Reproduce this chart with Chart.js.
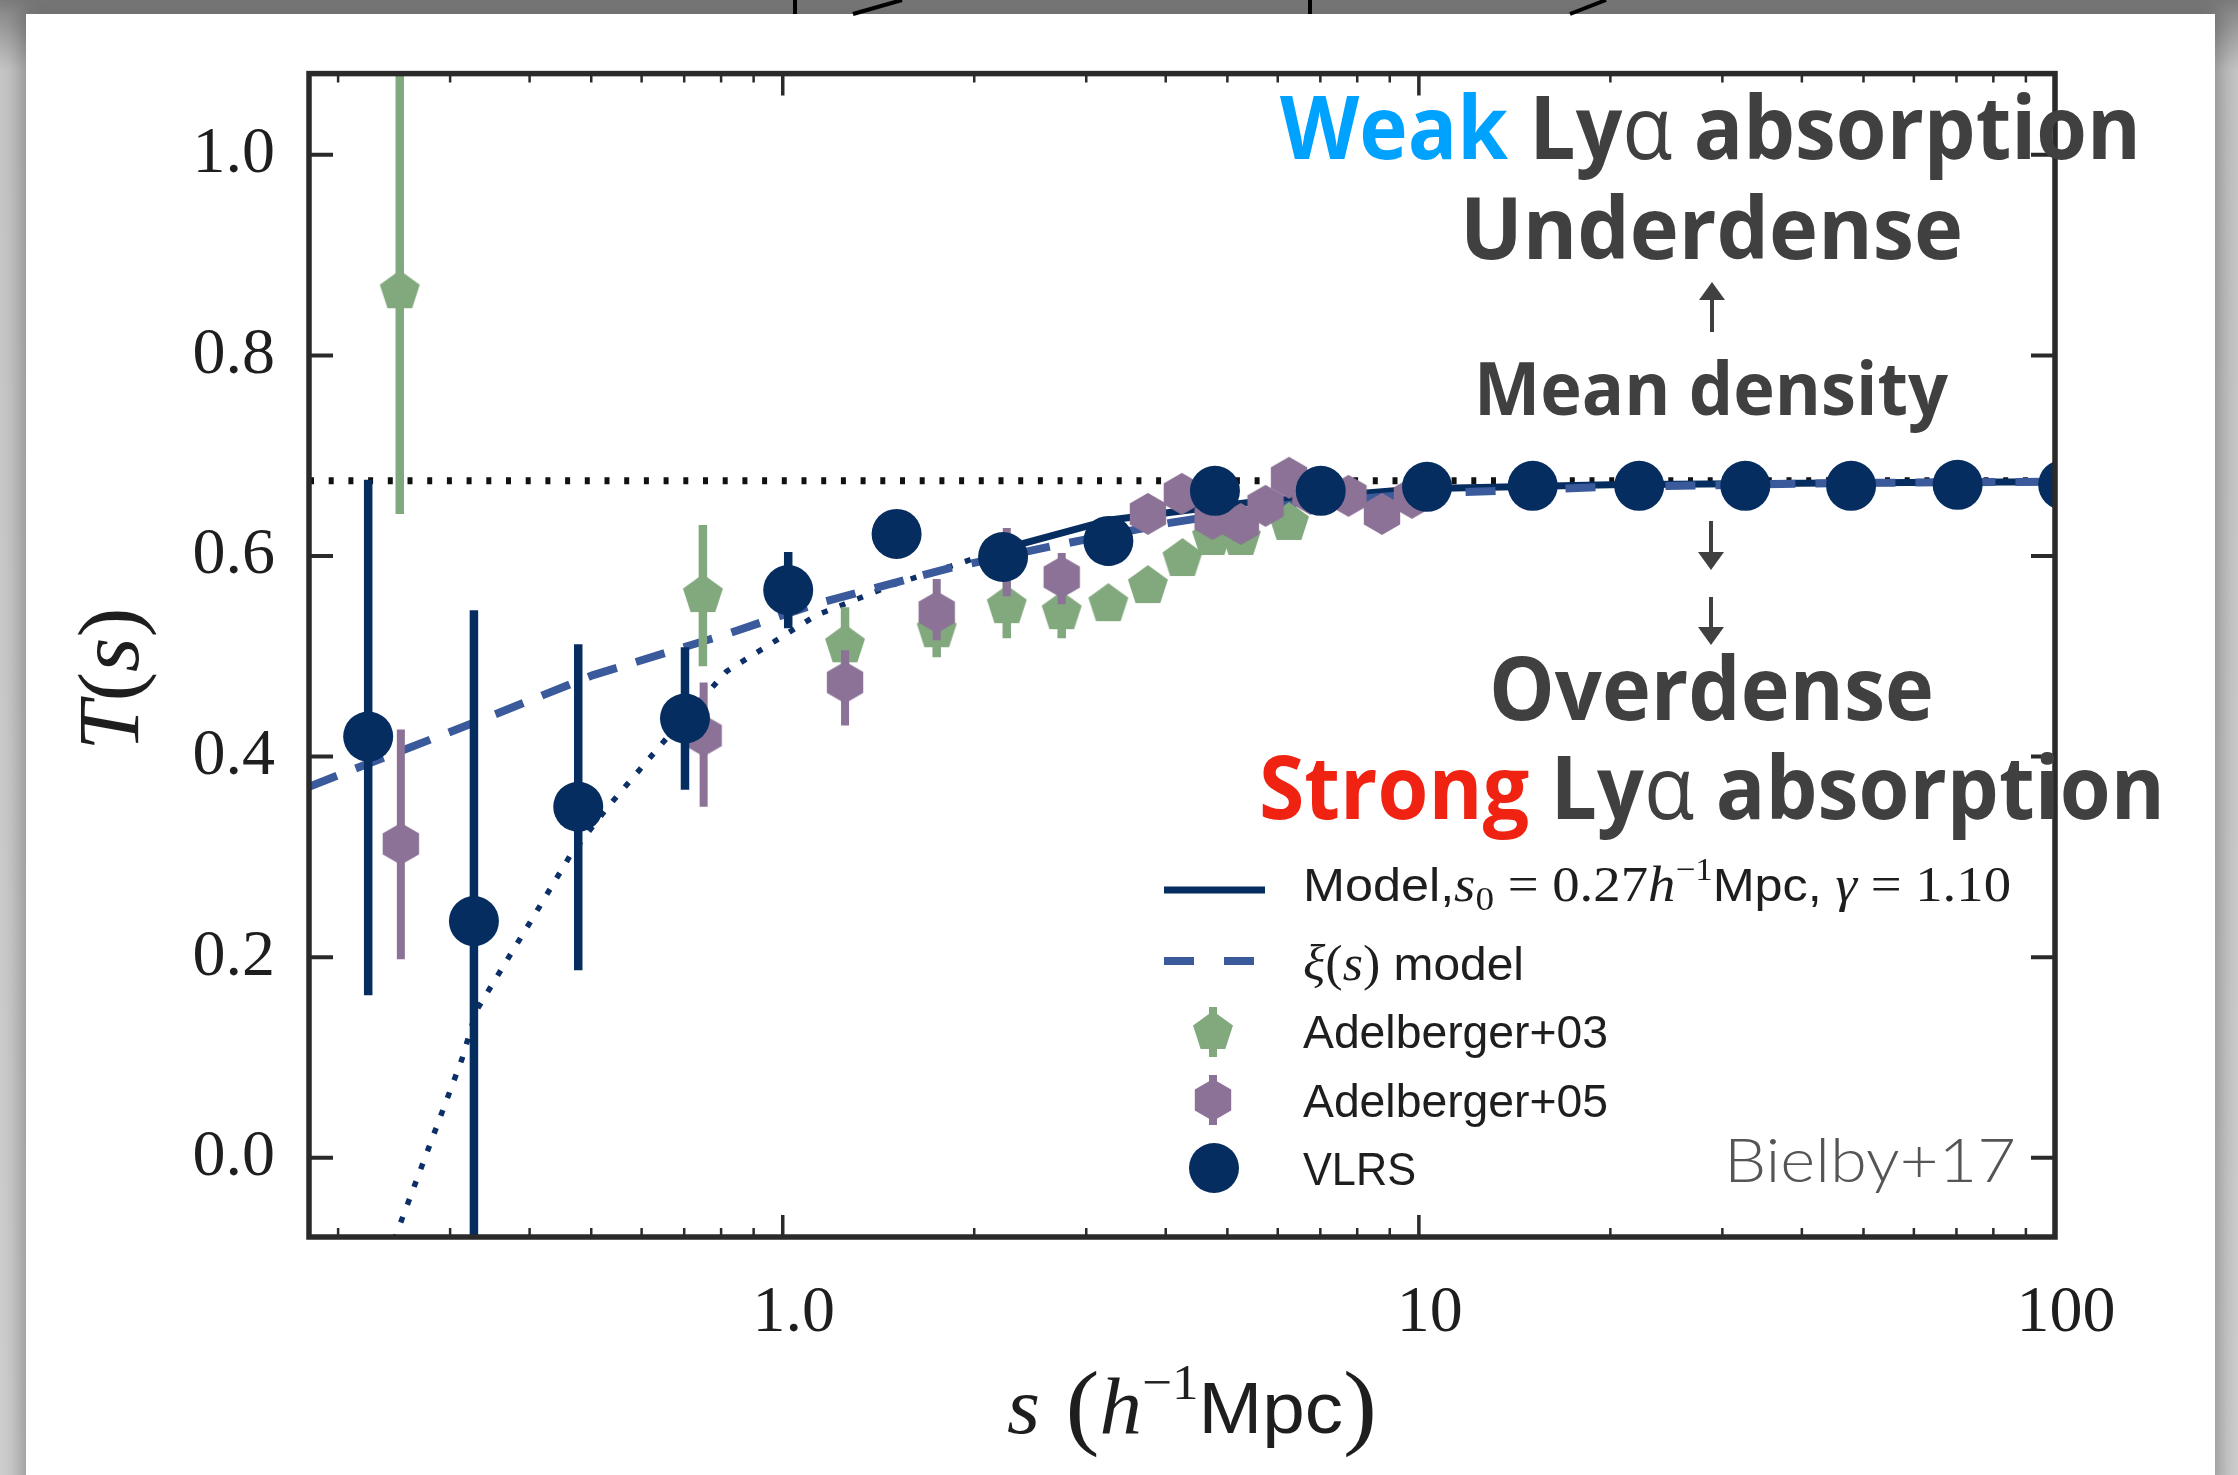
<!DOCTYPE html>
<html>
<head>
<meta charset="utf-8">
<script src="https://cdn.jsdelivr.net/npm/chart.js@4.4.1/dist/chart.umd.min.js"></script>
<style>
  html, body { margin: 0; padding: 0; }
  body { width: 2238px; height: 1475px; overflow: hidden; position: relative;
         background: linear-gradient(#7c7c7c 0, #8e8e8e 14px, #c6c6c6 70px, #cfcfcf 100%); }
  #card { position: absolute; left: 26px; top: 14px; width: 2189px; height: 1480px; background: #fff;
          box-shadow: 0 0 20px 5px rgba(0,0,0,0.30); }
  #deco { position: absolute; left: 0; top: 0; }
  #wrap { position: absolute; left: 0; top: 0; width: 2238px; height: 1475px; }
</style>
</head>
<body>
<div id="card"></div>
<svg id="deco" width="2238" height="16">
  <line x1="795" y1="0" x2="795" y2="14" stroke="#000" stroke-width="4"/>
  <line x1="853" y1="14" x2="902" y2="0" stroke="#000" stroke-width="4"/>
  <line x1="1310" y1="0" x2="1310" y2="14" stroke="#000" stroke-width="4"/>
  <line x1="1570" y1="14" x2="1606" y2="0" stroke="#000" stroke-width="4"/>
</svg>
<div id="wrap"><canvas id="grafico"></canvas></div>
<script>
// ========== DATOS ==========
const xTicks = [1, 10, 100];
const yTicks = [0.0, 0.2, 0.4, 0.6, 0.8, 1.0];

// VLRS
const vlrsS  = [0.223, 0.327, 0.477, 0.702, 1.02, 1.51, 2.22, 3.25, 4.78, 7.01, 10.3, 15.1, 22.2, 32.6, 47.8, 70.3, 103];
const vlrsT  = [0.420, 0.236, 0.350, 0.438, 0.566, 0.622, 0.599, 0.615, 0.665, 0.665, 0.669, 0.670, 0.670, 0.670, 0.670, 0.671, 0.671];
const vlrsLo = [0.162, -0.30, 0.187, 0.367, 0.528, 0.622, 0.599, 0.615, 0.665, 0.665, 0.669, 0.670, 0.670, 0.670, 0.670, 0.671, 0.671];
const vlrsHi = [0.676, 0.546, 0.512, 0.509, 0.604, 0.622, 0.599, 0.615, 0.665, 0.665, 0.669, 0.670, 0.670, 0.670, 0.670, 0.671, 0.671];

// Adelberger+03
const a03S  = [0.25, 0.749, 1.253, 1.746, 2.25, 2.745, 3.25, 3.75, 4.25, 4.73, 5.25, 6.25];
const a03T  = [0.864, 0.561, 0.511, 0.526, 0.550, 0.544, 0.552, 0.570, 0.597, 0.618, 0.618, 0.633];
const a03Lo = [0.642, 0.490, 0.485, 0.499, 0.518, 0.518, 0.540, 0.560, 0.585, 0.605, 0.605, 0.620];
const a03Hi = [1.300, 0.631, 0.549, 0.555, 0.580, 0.570, 0.565, 0.580, 0.610, 0.630, 0.630, 0.645];

// Adelberger+05
const a05S  = [0.251, 0.751, 1.253, 1.746, 2.25, 2.745, 3.25, 3.75, 4.24, 4.74, 5.25, 5.74, 6.25, 6.75, 7.75, 8.75, 9.75];
const a05T  = [0.313, 0.421, 0.474, 0.544, 0.600, 0.579, 0.615, 0.642, 0.662, 0.637, 0.632, 0.650, 0.678, 0.662, 0.660, 0.642, 0.658];
const a05Lo = [0.198, 0.350, 0.431, 0.516, 0.560, 0.552, 0.590, 0.625, 0.648, 0.620, 0.615, 0.635, 0.665, 0.650, 0.645, 0.625, 0.645];
const a05Hi = [0.427, 0.474, 0.506, 0.577, 0.628, 0.603, 0.635, 0.660, 0.678, 0.655, 0.650, 0.665, 0.692, 0.675, 0.675, 0.660, 0.670];

// modelos
const modelS = [2.22, 3.27, 5.36, 10, 20, 50, 100];
const modelT = [0.607, 0.636, 0.653, 0.667, 0.671, 0.673, 0.674];
const dotS = [0.239, 0.313, 0.33, 0.4, 0.464, 0.528, 0.65, 0.816, 1.0, 1.13, 1.5, 1.84, 2.22];
const dotT = [-0.10, 0.098, 0.147, 0.234, 0.302, 0.348, 0.415, 0.485, 0.52, 0.541, 0.572, 0.59, 0.607];
const xiS = [0.18, 0.34, 0.502, 0.815, 1.126, 1.83, 2.66, 4.06, 6.0, 10, 20, 50, 100];
const xiT = [0.370, 0.438, 0.481, 0.522, 0.552, 0.588, 0.610, 0.633, 0.650, 0.662, 0.669, 0.673, 0.674];
const meanS = [0.18, 100];
const meanT = [0.675, 0.675];

// ========== ESTILOS ==========
const NAVY = '#062d5f';
const GREEN = '#82a87e';
const PURPLE = '#8b7296';
const XIBLUE = '#3a5a9b';
const SERIF = "'Liberation Serif', 'DejaVu Serif', serif";
const SANS = "'Liberation Sans', 'DejaVu Sans', sans-serif";
const BOLD = "'Open Sans', 'DejaVu Sans', sans-serif";

function polygonImage(sides, r, color) {
  const c = document.createElement('canvas');
  const s = Math.ceil(2 * r + 2);
  c.width = s; c.height = s;
  const g = c.getContext('2d');
  g.fillStyle = color;
  g.beginPath();
  for (let i = 0; i < sides; i++) {
    const a = -Math.PI / 2 + i * 2 * Math.PI / sides;
    g.lineTo(s / 2 + r * Math.cos(a), s / 2 + r * Math.sin(a));
  }
  g.closePath();
  g.fill();
  return c;
}
const pentagon = polygonImage(5, 21, GREEN);
const hexagon = polygonImage(6, 21, PURPLE);

const pts = (xs, ys) => xs.map((v, i) => ({ x: v, y: ys[i] }));

// ========== PLUGINS ==========
const errorBars = {
  id: 'errorBars',
  beforeDatasetDraw(chart, args) {
    const ds = chart.data.datasets[args.index];
    if (!ds.errLo) return;
    const { ctx, chartArea: a, scales: { x, y } } = chart;
    ctx.save();
    ctx.beginPath();
    ctx.rect(a.left, a.top, a.right - a.left, a.bottom - a.top);
    ctx.clip();
    ctx.strokeStyle = ds.backgroundColor;
    ctx.lineWidth = ds.errWidth;
    ds.data.forEach((p, i) => {
      if (ds.errHi[i] - ds.errLo[i] <= 0) return;
      const px = x.getPixelForValue(p.x);
      ctx.beginPath();
      ctx.moveTo(px, y.getPixelForValue(ds.errLo[i]));
      ctx.lineTo(px, y.getPixelForValue(ds.errHi[i]));
      ctx.stroke();
    });
    ctx.restore();
  }
};

const frame = {
  id: 'frame',
  afterDatasetsDraw(chart) {
    const { ctx, chartArea: a, scales: { x, y } } = chart;
    ctx.save();
    ctx.strokeStyle = '#2a2a2a';
    ctx.lineCap = 'butt';
    // ticks x
    const minors = [];
    [0.1, 1, 10].forEach(k => { for (let m = 2; m <= 9; m++) minors.push(m * k); });
    ctx.lineWidth = 2.5;
    minors.filter(v => v > x.min && v < x.max).forEach(v => {
      const px = x.getPixelForValue(v);
      ctx.beginPath();
      ctx.moveTo(px, a.bottom); ctx.lineTo(px, a.bottom - 9);
      ctx.moveTo(px, a.top); ctx.lineTo(px, a.top + 9);
      ctx.stroke();
    });
    ctx.lineWidth = 3.5;
    xTicks.forEach(v => {
      const px = x.getPixelForValue(v);
      ctx.beginPath();
      ctx.moveTo(px, a.bottom); ctx.lineTo(px, a.bottom - 22);
      ctx.moveTo(px, a.top); ctx.lineTo(px, a.top + 22);
      ctx.stroke();
    });
    ctx.lineWidth = 4;
    yTicks.forEach(v => {
      const py = y.getPixelForValue(v);
      ctx.beginPath();
      ctx.moveTo(a.left, py); ctx.lineTo(a.left + 24, py);
      ctx.moveTo(a.right, py); ctx.lineTo(a.right - 24, py);
      ctx.stroke();
    });
    ctx.lineWidth = 5.5;
    ctx.strokeRect(a.left, a.top, a.right - a.left, a.bottom - a.top);
    ctx.restore();
  }
};

function drawRich(ctx, segs, x, y, width, align) {
  let total = 0;
  segs.forEach(s => { ctx.font = s.font; s.w = ctx.measureText(s.text).width; total += s.w; });
  const k = width ? width / total : 1;
  const x0 = align === 'center' ? x - total * k / 2 : x;
  ctx.save();
  ctx.translate(x0, y);
  ctx.scale(k, 1);
  ctx.textAlign = 'left';
  ctx.textBaseline = 'alphabetic';
  let cx = 0;
  segs.forEach(s => {
    ctx.font = s.font;
    ctx.fillStyle = s.color || '#1e1e1e';
    ctx.fillText(s.text, cx, s.dy || 0);
    cx += s.w;
  });
  ctx.restore();
}

function arrow(ctx, x, y0, y1) {
  const dir = Math.sign(y1 - y0);
  ctx.beginPath();
  ctx.moveTo(x, y0); ctx.lineTo(x, y1 - dir * 12);
  ctx.stroke();
  ctx.beginPath();
  ctx.moveTo(x, y1); ctx.lineTo(x - 13, y1 - dir * 18); ctx.lineTo(x + 13, y1 - dir * 18);
  ctx.closePath();
  ctx.fill();
}

const textos = {
  id: 'textos',
  afterDraw(chart) {
    const ctx = chart.ctx;
    const a = chart.chartArea;
    const GREY = '#404040';

    // titulos de ejes
    drawRich(ctx, [
      { text: 's', font: 'italic 80px ' + SERIF },
      { text: ' (', font: '96px ' + SERIF, dy: 4 },
      { text: 'h', font: 'italic 80px ' + SERIF },
      { text: '\u22121', font: '50px ' + SERIF, dy: -34 },
      { text: 'Mpc', font: '72px ' + SANS },
      { text: ')', font: '96px ' + SERIF, dy: 4 }
    ], (a.left + a.right) / 2 + 10, 1433, 370, 'center');

    ctx.save();
    ctx.translate(138, (a.top + a.bottom) / 2 + 24);
    ctx.rotate(-Math.PI / 2);
    drawRich(ctx, [
      { text: 'T', font: 'italic 86px ' + SERIF },
      { text: '(', font: '86px ' + SERIF },
      { text: 's', font: 'italic 86px ' + SERIF },
      { text: ')', font: '86px ' + SERIF }
    ], 0, 0, 143, 'center');
    ctx.restore();

    // anotaciones
    drawRich(ctx, [
      { text: 'Weak ', font: 'bold 87px ' + BOLD, color: '#00a2ff' },
      { text: 'Ly', font: 'bold 87px ' + BOLD, color: GREY },
      { text: '\u03b1', font: '87px ' + BOLD, color: GREY },
      { text: ' absorption', font: 'bold 87px ' + BOLD, color: GREY }
    ], 1280, 159, 861);
    drawRich(ctx, [{ text: 'Underdense', font: 'bold 86px ' + BOLD, color: GREY }], 1460, 259, 503);
    drawRich(ctx, [{ text: 'Mean density', font: 'bold 73px ' + BOLD, color: GREY }], 1474, 415, 474);
    drawRich(ctx, [{ text: 'Overdense', font: 'bold 88px ' + BOLD, color: GREY }], 1489, 720, 445);
    drawRich(ctx, [
      { text: 'Strong ', font: 'bold 87px ' + BOLD, color: '#f02212' },
      { text: 'Ly', font: 'bold 87px ' + BOLD, color: GREY },
      { text: '\u03b1', font: '87px ' + BOLD, color: GREY },
      { text: ' absorption', font: 'bold 87px ' + BOLD, color: GREY }
    ], 1259, 819, 906);
    ctx.save();
    ctx.strokeStyle = GREY; ctx.fillStyle = GREY; ctx.lineWidth = 4;
    arrow(ctx, 1712, 332, 282);
    arrow(ctx, 1711, 521, 570);
    arrow(ctx, 1711, 597, 645);
    ctx.restore();

    drawRich(ctx, [{ text: 'Bielby+17', font: '300 61px Lato, ' + SANS, color: '#555555' }], 1724, 1182, 292);

    // leyenda
    const ds = chart.data.datasets;
    const lx = 1164, tx = 1303;
    ctx.save();
    ctx.lineCap = 'butt';
    // Model
    ctx.strokeStyle = ds[3].borderColor; ctx.lineWidth = ds[3].borderWidth;
    ctx.beginPath(); ctx.moveTo(lx, 890); ctx.lineTo(lx + 101, 890); ctx.stroke();
    drawRich(ctx, [
      { text: 'Model,', font: '46px ' + SANS },
      { text: 's', font: 'italic 50px ' + SERIF },
      { text: '0', font: '34px ' + SERIF, dy: 9 },
      { text: ' = 0.27', font: '50px ' + SERIF },
      { text: 'h', font: 'italic 50px ' + SERIF },
      { text: '\u22121', font: '32px ' + SERIF, dy: -21 },
      { text: 'Mpc,', font: '46px ' + SANS },
      { text: ' \u03b3', font: 'italic 50px ' + SERIF },
      { text: ' = 1.10', font: '50px ' + SERIF }
    ], tx, 901, 708);
    // xi
    ctx.strokeStyle = ds[4].borderColor; ctx.lineWidth = ds[4].borderWidth;
    ctx.setLineDash([30, 30]);
    ctx.beginPath(); ctx.moveTo(lx, 961); ctx.lineTo(lx + 90, 961); ctx.stroke();
    ctx.setLineDash([]);
    drawRich(ctx, [
      { text: '\u03be', font: 'italic 50px ' + SERIF },
      { text: '(', font: '50px ' + SERIF },
      { text: 's', font: 'italic 50px ' + SERIF },
      { text: ')', font: '50px ' + SERIF },
      { text: ' model', font: '46px ' + SANS }
    ], tx, 980, 221);
    // marcadores
    [[2, 1032, 1048], [1, 1100, 1117]].forEach(([i, my, by]) => {
      ctx.strokeStyle = ds[i].backgroundColor; ctx.lineWidth = 8;
      ctx.beginPath(); ctx.moveTo(1213, my - 25); ctx.lineTo(1213, my + 25); ctx.stroke();
      const img = ds[i].pointStyle;
      ctx.drawImage(img, 1213 - img.width / 2, my - img.height / 2);
      drawRich(ctx, [{ text: ds[i].label, font: '46px ' + SANS }], tx, by, 305);
    });
    ctx.fillStyle = ds[0].backgroundColor;
    ctx.beginPath(); ctx.arc(1214, 1168, 25, 0, Math.PI * 2); ctx.fill();
    drawRich(ctx, [{ text: ds[0].label, font: '46px ' + SANS }], tx, 1185, 113);
    ctx.restore();
  }
};

// ========== GRAFICO ==========
const datasets = [
  { label: 'VLRS', data: pts(vlrsS, vlrsT), pointStyle: 'circle', pointRadius: 25,
    backgroundColor: NAVY, borderWidth: 0, errLo: vlrsLo, errHi: vlrsHi, errWidth: 8.5, order: 0 },
  { label: 'Adelberger+05', data: pts(a05S, a05T), pointStyle: hexagon,
    backgroundColor: PURPLE, borderWidth: 0, errLo: a05Lo, errHi: a05Hi, errWidth: 8, order: 1 },
  { label: 'Adelberger+03', data: pts(a03S, a03T), pointStyle: pentagon,
    backgroundColor: GREEN, borderWidth: 0, errLo: a03Lo, errHi: a03Hi, errWidth: 8.5, order: 2 },
  { label: 'Model', data: pts(modelS, modelT), showLine: true, pointRadius: 0,
    borderColor: NAVY, borderWidth: 7, order: 4 },
  { label: 'xi model', data: pts(xiS, xiT), showLine: true, pointRadius: 0,
    borderColor: XIBLUE, borderWidth: 8, borderDash: [30, 20], order: 3 },
  { label: 'Model (small s)', data: pts(dotS, dotT), showLine: true, pointRadius: 0,
    borderColor: '#0b2f66', borderWidth: 5.5, borderDash: [6, 13], order: 5 },
  { label: 'Mean', data: pts(meanS, meanT), showLine: true, pointRadius: 0,
    borderColor: '#111111', borderWidth: 7, borderDash: [5, 14.7], order: 6 }
];
datasets.forEach(d => { d.clip = 0; d.tension = 0; });

new Chart(document.getElementById('grafico'), {
  type: 'scatter',
  data: { datasets },
  options: {
    responsive: true,
    maintainAspectRatio: false,
    animation: false,
    events: [],
    layout: { padding: { left: 0, top: 72, right: 183, bottom: 0 } },
    plugins: { legend: { display: false }, tooltip: { enabled: false } },
    scales: {
      x: {
        type: 'logarithmic', min: 0.18, max: 100,
        grid: { display: false, drawTicks: false }, border: { display: false },
        afterBuildTicks: s => { s.ticks = xTicks.map(v => ({ value: v })); },
        afterFit: s => { s.height = 238; },
        ticks: { autoSkip: false, maxRotation: 0, padding: 37, labelOffset: 11, color: '#1e1e1e',
                 font: { family: SERIF, size: 66 },
                 callback: v => v === 1 ? '1.0' : String(v) }
      },
      y: {
        type: 'linear', min: -0.079, max: 1.081,
        grid: { display: false, drawTicks: false }, border: { display: false },
        afterBuildTicks: s => { s.ticks = yTicks.map(v => ({ value: v })); },
        afterFit: s => { s.width = 309; },
        ticks: { autoSkip: false, padding: 34, color: '#1e1e1e',
                 font: { family: SERIF, size: 66 },
                 callback: v => v.toFixed(1) }
      }
    }
  },
  plugins: [errorBars, frame, textos]
});
</script>
</body>
</html>
